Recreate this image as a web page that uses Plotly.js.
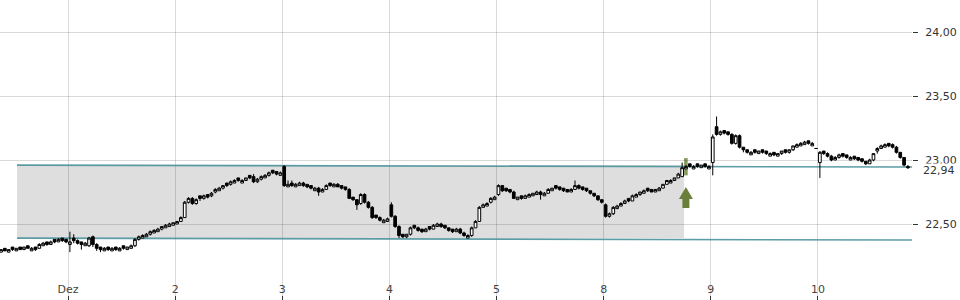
<!DOCTYPE html>
<html><head><meta charset="utf-8">
<script src="https://cdn.plot.ly/plotly-3.0.1.min.js"></script>
<style>html,body{margin:0;padding:0;background:#fff}#chart{width:960px;height:300px}</style>
</head><body><div id="chart"></div>
<script>
// Trading-day labels (gridlines at the open of each day)
const dayLabels = ['Dez', '2', '3', '4', '5', '8', '9', '10'];
// candles per session shown (first entry = tail of 28 Nov), 30-min candles, 28 per full session
const candlesPerDay = [18, 28, 28, 28, 28, 28, 28, 28, 24];
const slotsPerDay = 28;

const openP = [
 22.28,22.31,22.28,22.32,22.29,22.32,22.30,22.33,22.29,22.32,22.31,22.33,22.36,22.34,22.38,22.36,22.39,22.38,
 22.34,22.39,22.37,22.36,22.33,22.33,22.40,22.34,22.32,22.29,22.32,22.29,22.32,22.29,22.33,22.30,22.31,22.33,22.38,22.39,22.40,22.42,22.43,22.44,22.46,22.47,22.48,22.49,
 22.50,22.52,22.55,22.67,22.70,22.66,22.72,22.70,22.73,22.72,22.75,22.76,22.78,22.82,22.81,22.82,22.86,22.82,22.84,22.88,22.87,22.83,22.85,22.86,22.88,22.92,22.91,22.88,
 22.95,22.79,22.82,22.79,22.80,22.82,22.81,22.80,22.76,22.78,22.75,22.77,22.82,22.79,22.81,22.80,22.79,22.77,22.71,22.69,22.66,22.73,22.67,22.63,22.57,22.55,22.51,22.52,
 22.65,22.56,22.48,22.42,22.40,22.42,22.49,22.47,22.46,22.44,22.48,22.46,22.48,22.50,22.49,22.47,22.46,22.44,22.46,22.43,22.39,22.41,22.47,22.52,22.63,22.64,22.67,22.69,
 22.73,22.80,22.78,22.77,22.75,22.69,22.72,22.70,22.71,22.72,22.73,22.75,22.72,22.74,22.76,22.80,22.79,22.78,22.77,22.75,22.77,22.80,22.79,22.78,22.76,22.74,22.72,22.69,
 22.65,22.56,22.58,22.62,22.64,22.66,22.70,22.68,22.71,22.73,22.74,22.78,22.77,22.75,22.76,22.78,22.81,22.82,22.84,22.86,22.87,22.93,22.97,22.93,22.97,22.94,22.97,22.93,
 22.98,23.26,23.20,23.23,23.22,23.20,23.13,23.19,23.10,23.08,23.04,23.08,23.05,23.08,23.07,23.03,23.06,23.03,23.05,23.08,23.06,23.08,23.10,23.11,23.12,23.15,23.11,23.09,
 22.98,23.07,23.05,23.03,23.00,23.02,23.05,23.04,23.00,23.03,23.02,23.01,22.99,22.97,23.00,23.07,23.09,23.10,23.13,23.12,23.10,23.06,23.02,22.95
];
const highP = [
 22.30,22.31,22.30,22.32,22.31,22.32,22.32,22.33,22.32,22.32,22.35,22.36,22.36,22.37,22.38,22.39,22.39,22.38,
 22.44,22.42,22.38,22.36,22.36,22.40,22.41,22.35,22.32,22.32,22.32,22.32,22.32,22.32,22.33,22.32,22.34,22.39,22.41,22.42,22.43,22.45,22.46,22.47,22.48,22.50,22.51,22.51,
 22.52,22.56,22.68,22.71,22.71,22.70,22.72,22.73,22.73,22.75,22.78,22.79,22.80,22.82,22.84,22.85,22.86,22.85,22.86,22.88,22.89,22.86,22.88,22.89,22.91,22.92,22.91,22.91,
 22.96,22.84,22.84,22.82,22.83,22.83,22.81,22.80,22.79,22.79,22.78,22.81,22.82,22.82,22.82,22.80,22.79,22.78,22.71,22.69,22.74,22.74,22.68,22.64,22.57,22.56,22.54,22.55,
 22.67,22.57,22.49,22.42,22.42,22.48,22.49,22.48,22.46,22.47,22.48,22.50,22.51,22.51,22.49,22.47,22.46,22.47,22.47,22.44,22.42,22.48,22.53,22.64,22.66,22.67,22.71,22.72,
 22.81,22.80,22.78,22.77,22.76,22.71,22.72,22.73,22.74,22.74,22.76,22.76,22.75,22.78,22.78,22.80,22.79,22.78,22.77,22.78,22.84,22.81,22.79,22.78,22.76,22.74,22.72,22.69,
 22.66,22.59,22.64,22.65,22.67,22.69,22.70,22.73,22.74,22.75,22.77,22.78,22.77,22.77,22.79,22.81,22.84,22.85,22.86,22.90,22.98,22.96,22.97,22.96,22.97,22.96,22.97,22.96,
 23.20,23.34,23.23,23.23,23.22,23.21,23.20,23.20,23.10,23.08,23.07,23.08,23.07,23.08,23.07,23.06,23.06,23.05,23.07,23.08,23.08,23.11,23.13,23.14,23.15,23.15,23.14,23.09,
 23.07,23.07,23.06,23.04,23.03,23.05,23.05,23.04,23.03,23.03,23.02,23.01,22.99,23.01,23.05,23.10,23.12,23.13,23.13,23.13,23.11,23.06,23.02,22.96
];
const lowP = [
 22.28,22.29,22.28,22.29,22.29,22.30,22.30,22.31,22.29,22.29,22.31,22.33,22.33,22.34,22.35,22.36,22.36,22.35,
 22.28,22.35,22.34,22.30,22.33,22.32,22.32,22.29,22.28,22.29,22.29,22.29,22.29,22.29,22.30,22.30,22.31,22.32,22.37,22.39,22.40,22.41,22.43,22.44,22.45,22.47,22.48,22.49,
 22.50,22.52,22.55,22.66,22.65,22.65,22.68,22.69,22.70,22.71,22.74,22.76,22.77,22.79,22.80,22.82,22.83,22.82,22.84,22.85,22.82,22.82,22.84,22.86,22.87,22.89,22.88,22.88,
 22.79,22.79,22.79,22.79,22.80,22.79,22.78,22.77,22.76,22.72,22.75,22.77,22.79,22.79,22.79,22.77,22.76,22.70,22.68,22.61,22.65,22.66,22.62,22.54,22.54,22.52,22.51,22.52,
 22.55,22.47,22.39,22.39,22.39,22.41,22.46,22.44,22.43,22.44,22.45,22.46,22.48,22.47,22.46,22.44,22.43,22.44,22.42,22.40,22.39,22.40,22.47,22.52,22.63,22.64,22.66,22.69,
 22.72,22.75,22.75,22.74,22.70,22.69,22.69,22.70,22.71,22.72,22.73,22.69,22.72,22.74,22.76,22.77,22.76,22.75,22.75,22.75,22.77,22.77,22.76,22.75,22.73,22.71,22.68,22.66,
 22.55,22.55,22.57,22.62,22.64,22.66,22.67,22.68,22.71,22.72,22.74,22.75,22.75,22.75,22.76,22.78,22.81,22.82,22.84,22.86,22.87,22.93,22.94,22.93,22.94,22.94,22.94,22.93,
 22.88,23.19,23.19,23.20,23.19,23.12,23.12,23.09,23.06,23.05,23.04,23.05,23.05,23.05,23.04,23.03,23.03,23.03,23.04,23.05,23.05,23.07,23.10,23.11,23.12,23.12,23.11,23.09,
 22.86,23.04,23.02,22.99,23.00,23.01,23.02,23.01,23.00,23.00,22.99,22.98,22.96,22.97,22.99,23.05,23.09,23.10,23.10,23.09,23.05,23.01,22.95,22.93
];
const closeP = [
 22.30,22.29,22.30,22.30,22.31,22.30,22.32,22.31,22.31,22.30,22.34,22.35,22.34,22.36,22.36,22.38,22.37,22.36,
 22.36,22.37,22.35,22.34,22.35,22.39,22.34,22.31,22.30,22.31,22.30,22.31,22.30,22.31,22.31,22.32,22.33,22.38,22.40,22.41,22.42,22.44,22.45,22.46,22.48,22.49,22.50,22.51,
 22.52,22.55,22.67,22.70,22.66,22.69,22.70,22.72,22.71,22.74,22.77,22.78,22.80,22.80,22.83,22.84,22.84,22.84,22.86,22.86,22.83,22.85,22.87,22.88,22.90,22.90,22.89,22.90,
 22.80,22.81,22.80,22.81,22.82,22.80,22.79,22.78,22.78,22.75,22.77,22.80,22.80,22.81,22.79,22.78,22.77,22.70,22.69,22.65,22.73,22.67,22.63,22.55,22.55,22.53,22.53,22.54,
 22.56,22.48,22.41,22.40,22.42,22.47,22.47,22.45,22.44,22.46,22.46,22.49,22.50,22.48,22.47,22.45,22.44,22.46,22.43,22.41,22.41,22.47,22.52,22.63,22.65,22.66,22.70,22.71,
 22.80,22.76,22.76,22.75,22.70,22.71,22.70,22.72,22.73,22.74,22.75,22.73,22.74,22.77,22.78,22.78,22.77,22.76,22.75,22.77,22.80,22.78,22.77,22.76,22.74,22.72,22.69,22.67,
 22.56,22.58,22.63,22.64,22.66,22.68,22.68,22.72,22.73,22.75,22.76,22.76,22.75,22.77,22.78,22.81,22.84,22.84,22.86,22.89,22.94,22.95,22.95,22.95,22.95,22.96,22.95,22.95,
 23.18,23.20,23.22,23.21,23.20,23.13,23.19,23.10,23.08,23.06,23.06,23.06,23.07,23.06,23.05,23.05,23.04,23.05,23.07,23.06,23.08,23.11,23.12,23.13,23.14,23.13,23.13,23.09,
 23.06,23.05,23.03,23.00,23.02,23.04,23.03,23.02,23.02,23.01,23.00,22.99,22.97,23.00,23.05,23.09,23.11,23.12,23.11,23.10,23.06,23.02,22.96,22.94
];
const lastPrice = 22.94;
const yTicks = [22.0, 22.5, 23.0, 23.5, 24.0];
// trend channel (resistance / support) and the range box, in price units
const channelTop = [22.96, 22.945];
const channelBottom = [22.39, 22.375];

// session-index x positions
const xPos = [];
candlesPerDay.forEach((n, d) => {
  const day = d - 1;
  const start = d === 0 ? slotsPerDay - n : 0;
  for (let k = 0; k < n; k++) xPos.push(day + (start + k + 0.5) / slotsPerDay);
});
const xMin = -0.6347, xMax = 7.8775;
const channelX0 = -0.476;             // channel start
const boxX1 = 5.75;                   // end of range box (breakout)
const breakoutIdx = 18 + 28 * 5 + 20; // breakout candle (day 8)
const breakoutX = xPos[breakoutIdx];

const trace = {
  type: 'candlestick', x: xPos, open: openP, high: highP, low: lowP, close: closeP,
  increasing: {line: {color: '#000', width: 1}, fillcolor: '#ffffff'},
  decreasing: {line: {color: '#000', width: 1}, fillcolor: '#000000'},
  whiskerwidth: 0, hoverinfo: 'skip', showlegend: false
};

const teal = 'rgba(74,145,155,0.9)';
const shapes = [
  {type: 'rect', layer: 'below', xref: 'x', yref: 'y', x0: channelX0, x1: boxX1,
   y0: channelBottom[0], y1: channelTop[0], fillcolor: '#dedede', line: {width: 0}},
  {type: 'line', layer: 'between', xref: 'x', yref: 'y', x0: channelX0, x1: xMax,
   y0: channelTop[0], y1: channelTop[1], line: {color: teal, width: 1.6}},
  {type: 'line', layer: 'between', xref: 'x', yref: 'y', x0: channelX0, x1: xMax,
   y0: channelBottom[0], y1: channelBottom[1], line: {color: teal, width: 1.6}},
  // highlighted breakout bar
  {type: 'rect', layer: 'below', xref: 'x', yref: 'y', xsizemode: 'pixel', xanchor: breakoutX + 0.035,
   x0: -1.8, x1: 1.8, y0: 22.88, y1: 23.015, fillcolor: '#6f8a3e', line: {width: 0}, opacity: 0.85},
  // up arrow under the breakout
  {type: 'path', layer: 'above', xref: 'x', yref: 'y', xsizemode: 'pixel', ysizemode: 'pixel',
   xanchor: breakoutX + 0.035, yanchor: 22.79,
   path: 'M 0 0 L 7 -12 L 3.5 -12 L 3.5 -21 L -3.5 -21 L -3.5 -12 L -7 -12 Z',
   fillcolor: '#6b7f3a', line: {width: 0}}
];

const layout = {
  width: 960, height: 300,
  margin: {l: 0, r: 48, t: 0, b: 0},
  paper_bgcolor: '#fff', plot_bgcolor: '#fff',
  separators: ',.',
  boxgap: 0,
  font: {family: 'DejaVu Sans', size: 11, color: '#333'},
  xaxis: {
    type: 'linear', range: [xMin, xMax], rangeslider: {visible: false},
    tickmode: 'array', tickvals: dayLabels.map((_, i) => i), ticktext: dayLabels,
    ticks: 'inside', ticklen: 4, tickcolor: '#333', ticklabelposition: 'inside',
    showgrid: true, gridcolor: 'rgba(0,0,0,0.15)', gridwidth: 1,
    zeroline: false, showline: false, fixedrange: true
  },
  yaxis: {
    side: 'right', range: [23 - 140 / 128, 23 + 160 / 128],
    tickmode: 'array', tickvals: yTicks, tickformat: '.2f',
    ticks: 'outside', ticklen: 5, tickcolor: '#333', ticklabelstandoff: 5,
    showgrid: true, gridcolor: 'rgba(0,0,0,0.15)', gridwidth: 1,
    zeroline: false, showline: false, fixedrange: true
  },
  shapes: shapes,
  annotations: [{
    xref: 'paper', yref: 'y', x: 1, y: lastPrice, xanchor: 'left', yanchor: 'middle',
    xshift: 10, yshift: -3, text: lastPrice.toFixed(2).replace('.', ','), showarrow: false,
    bgcolor: '#ffffff', borderpad: 0, font: {family: 'DejaVu Sans', size: 11, color: '#333'}
  }]
};

Plotly.newPlot('chart', [trace], layout, {staticPlot: true, displayModeBar: false});
</script></body></html>
